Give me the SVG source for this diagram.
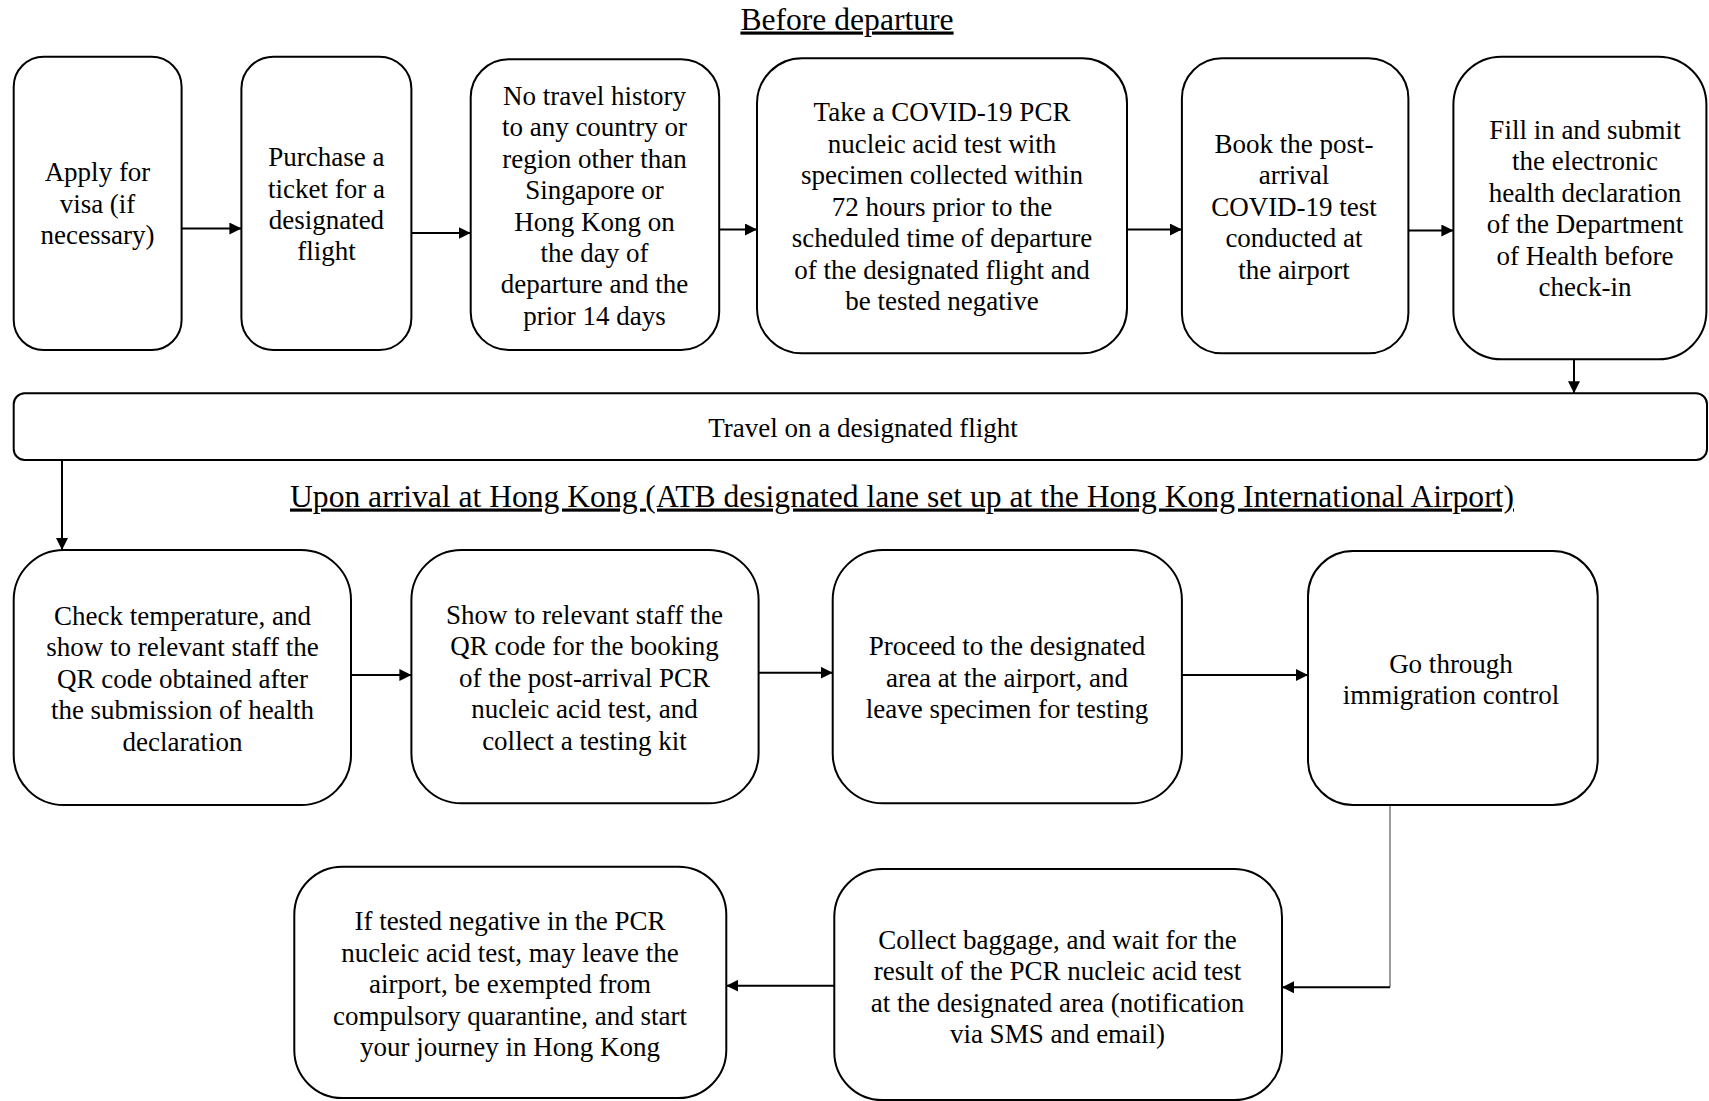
<svg xmlns="http://www.w3.org/2000/svg" width="1709" height="1101" viewBox="0 0 1709 1101">
<defs>
<style>
.box{fill:#fff;stroke:#000;stroke-width:2}
.t{font-family:"Liberation Serif","Times New Roman",serif;font-size:27px;fill:#000;text-anchor:middle}
.h{font-family:"Liberation Serif","Times New Roman",serif;font-size:31.6px;fill:#000;text-anchor:middle;text-decoration:underline;text-decoration-skip-ink:none}
.c{fill:none;stroke:#000;stroke-width:2}
.thin{fill:none;stroke:#666;stroke-width:1.3}
</style>
<marker id="ah" markerUnits="userSpaceOnUse" markerWidth="12" markerHeight="12" refX="12" refY="6" orient="auto">
<path d="M0,0 L12,6 L0,12 z" fill="#000"/>
</marker>
</defs>
<rect width="1709" height="1101" fill="#fff"/>
<g id="titles">
<text class="h" x="847" y="29.5">Before departure</text>
<text class="h" x="902" y="506.5">Upon arrival at Hong Kong (ATB designated lane set up at the Hong Kong International Airport)</text>
</g>
<g id="connectors">
<line class="c" x1="181.6" y1="228.5" x2="241.4" y2="228.5" marker-end="url(#ah)"/>
<line class="c" x1="411.4" y1="233" x2="470.7" y2="233" marker-end="url(#ah)"/>
<line class="c" x1="719.2" y1="229.5" x2="757" y2="229.5" marker-end="url(#ah)"/>
<line class="c" x1="1127" y1="229.5" x2="1181.9" y2="229.5" marker-end="url(#ah)"/>
<line class="c" x1="1408.4" y1="230.5" x2="1453.4" y2="230.5" marker-end="url(#ah)"/>
<line class="c" x1="1574" y1="359.3" x2="1574" y2="393.3" marker-end="url(#ah)"/>
<line class="c" x1="62" y1="460" x2="62" y2="550" marker-end="url(#ah)"/>
<line class="c" x1="351" y1="675" x2="411.4" y2="675" marker-end="url(#ah)"/>
<line class="c" x1="758.6" y1="672.7" x2="832.7" y2="672.7" marker-end="url(#ah)"/>
<line class="c" x1="1181.9" y1="675" x2="1308" y2="675" marker-end="url(#ah)"/>
<line class="thin" x1="1390" y1="805" x2="1390" y2="987.3"/>
<line class="c" x1="1390" y1="987.3" x2="1282" y2="987.3" marker-end="url(#ah)"/>
<line class="c" x1="834.3" y1="985.7" x2="726.3" y2="985.7" marker-end="url(#ah)"/>
</g>
<g id="n1">
<rect class="box" x="13.7" y="56.7" width="167.9" height="293.3" rx="30"/>
<text class="t"><tspan x="97.5" y="181">Apply for</tspan><tspan x="97.5" y="212.5">visa (if</tspan><tspan x="97.5" y="244">necessary)</tspan></text>
</g>
<g id="n2">
<rect class="box" x="241.4" y="56.7" width="170" height="293.3" rx="32"/>
<text class="t"><tspan x="326.4" y="166">Purchase a</tspan><tspan x="326.4" y="197.5">ticket for a</tspan><tspan x="326.4" y="228.5">designated</tspan><tspan x="326.4" y="259.7">flight</tspan></text>
</g>
<g id="n3">
<rect class="box" x="470.7" y="59.3" width="248.5" height="290.7" rx="38"/>
<text class="t"><tspan x="594.5" y="105">No travel history</tspan><tspan x="594.5" y="136.4">to any country or</tspan><tspan x="594.5" y="167.8">region other than</tspan><tspan x="594.5" y="199.2">Singapore or</tspan><tspan x="594.5" y="230.6">Hong Kong on</tspan><tspan x="594.5" y="262">the day of</tspan><tspan x="594.5" y="293.4">departure and the</tspan><tspan x="594.5" y="324.8">prior 14 days</tspan></text>
</g>
<g id="n4">
<rect class="box" x="757" y="58.3" width="370" height="295" rx="45"/>
<text class="t"><tspan x="942" y="121.3">Take a COVID-19 PCR</tspan><tspan x="942" y="152.8">nucleic acid test with</tspan><tspan x="942" y="184.3">specimen collected within</tspan><tspan x="942" y="215.8">72 hours prior to the</tspan><tspan x="942" y="247.3">scheduled time of departure</tspan><tspan x="942" y="278.8">of the designated flight and</tspan><tspan x="942" y="310.3">be tested negative</tspan></text>
</g>
<g id="n5">
<rect class="box" x="1181.9" y="58.3" width="226.5" height="295" rx="40"/>
<text class="t"><tspan x="1294" y="152.9">Book the post-</tspan><tspan x="1294" y="184.4">arrival</tspan><tspan x="1294" y="215.9">COVID-19 test</tspan><tspan x="1294" y="247.4">conducted at</tspan><tspan x="1294" y="278.9">the airport</tspan></text>
</g>
<g id="n6">
<rect class="box" x="1453.4" y="56.7" width="253" height="302.6" rx="48"/>
<text class="t"><tspan x="1585" y="138.7">Fill in and submit</tspan><tspan x="1585" y="170.2">the electronic</tspan><tspan x="1585" y="201.7">health declaration</tspan><tspan x="1585" y="233.2">of the Department</tspan><tspan x="1585" y="264.7">of Health before</tspan><tspan x="1585" y="296.2">check-in</tspan></text>
</g>
<g id="flight">
<rect class="box" x="13.7" y="393.3" width="1693.3" height="66.7" rx="11"/>
<text class="t" x="863" y="437">Travel on a designated flight</text>
</g>
<g id="a1">
<rect class="box" x="13.7" y="550" width="337.3" height="255" rx="50"/>
<text class="t"><tspan x="182.5" y="624.8">Check temperature, and</tspan><tspan x="182.5" y="656.3">show to relevant staff the</tspan><tspan x="182.5" y="687.8">QR code obtained after</tspan><tspan x="182.5" y="719.3">the submission of health</tspan><tspan x="182.5" y="750.8">declaration</tspan></text>
</g>
<g id="a2">
<rect class="box" x="411.4" y="550" width="347.2" height="253.3" rx="50"/>
<text class="t"><tspan x="584.5" y="623.7">Show to relevant staff the</tspan><tspan x="584.5" y="655.2">QR code for the booking</tspan><tspan x="584.5" y="686.7">of the post-arrival PCR</tspan><tspan x="584.5" y="718.2">nucleic acid test, and</tspan><tspan x="584.5" y="749.7">collect a testing kit</tspan></text>
</g>
<g id="a3">
<rect class="box" x="832.7" y="550" width="349.2" height="253.3" rx="50"/>
<text class="t"><tspan x="1007" y="655.3">Proceed to the designated</tspan><tspan x="1007" y="686.8">area at the airport, and</tspan><tspan x="1007" y="718.3">leave specimen for testing</tspan></text>
</g>
<g id="a4">
<rect class="box" x="1308" y="551" width="289.7" height="254" rx="45"/>
<text class="t"><tspan x="1451" y="672.7">Go through</tspan><tspan x="1451" y="704.2">immigration control</tspan></text>
</g>
<g id="a5">
<rect class="box" x="834.3" y="869" width="447.7" height="231" rx="48"/>
<text class="t"><tspan x="1057.5" y="948.5">Collect baggage, and wait for the</tspan><tspan x="1057.5" y="980">result of the PCR nucleic acid test</tspan><tspan x="1057.5" y="1011.5">at the designated area (notification</tspan><tspan x="1057.5" y="1043">via SMS and email)</tspan></text>
</g>
<g id="a6">
<rect class="box" x="294.3" y="866.7" width="432" height="231.3" rx="48"/>
<text class="t"><tspan x="510" y="930">If tested negative in the PCR</tspan><tspan x="510" y="961.5">nucleic acid test, may leave the</tspan><tspan x="510" y="993">airport, be exempted from</tspan><tspan x="510" y="1024.5">compulsory quarantine, and start</tspan><tspan x="510" y="1056">your journey in Hong Kong</tspan></text>
</g>
</svg>
